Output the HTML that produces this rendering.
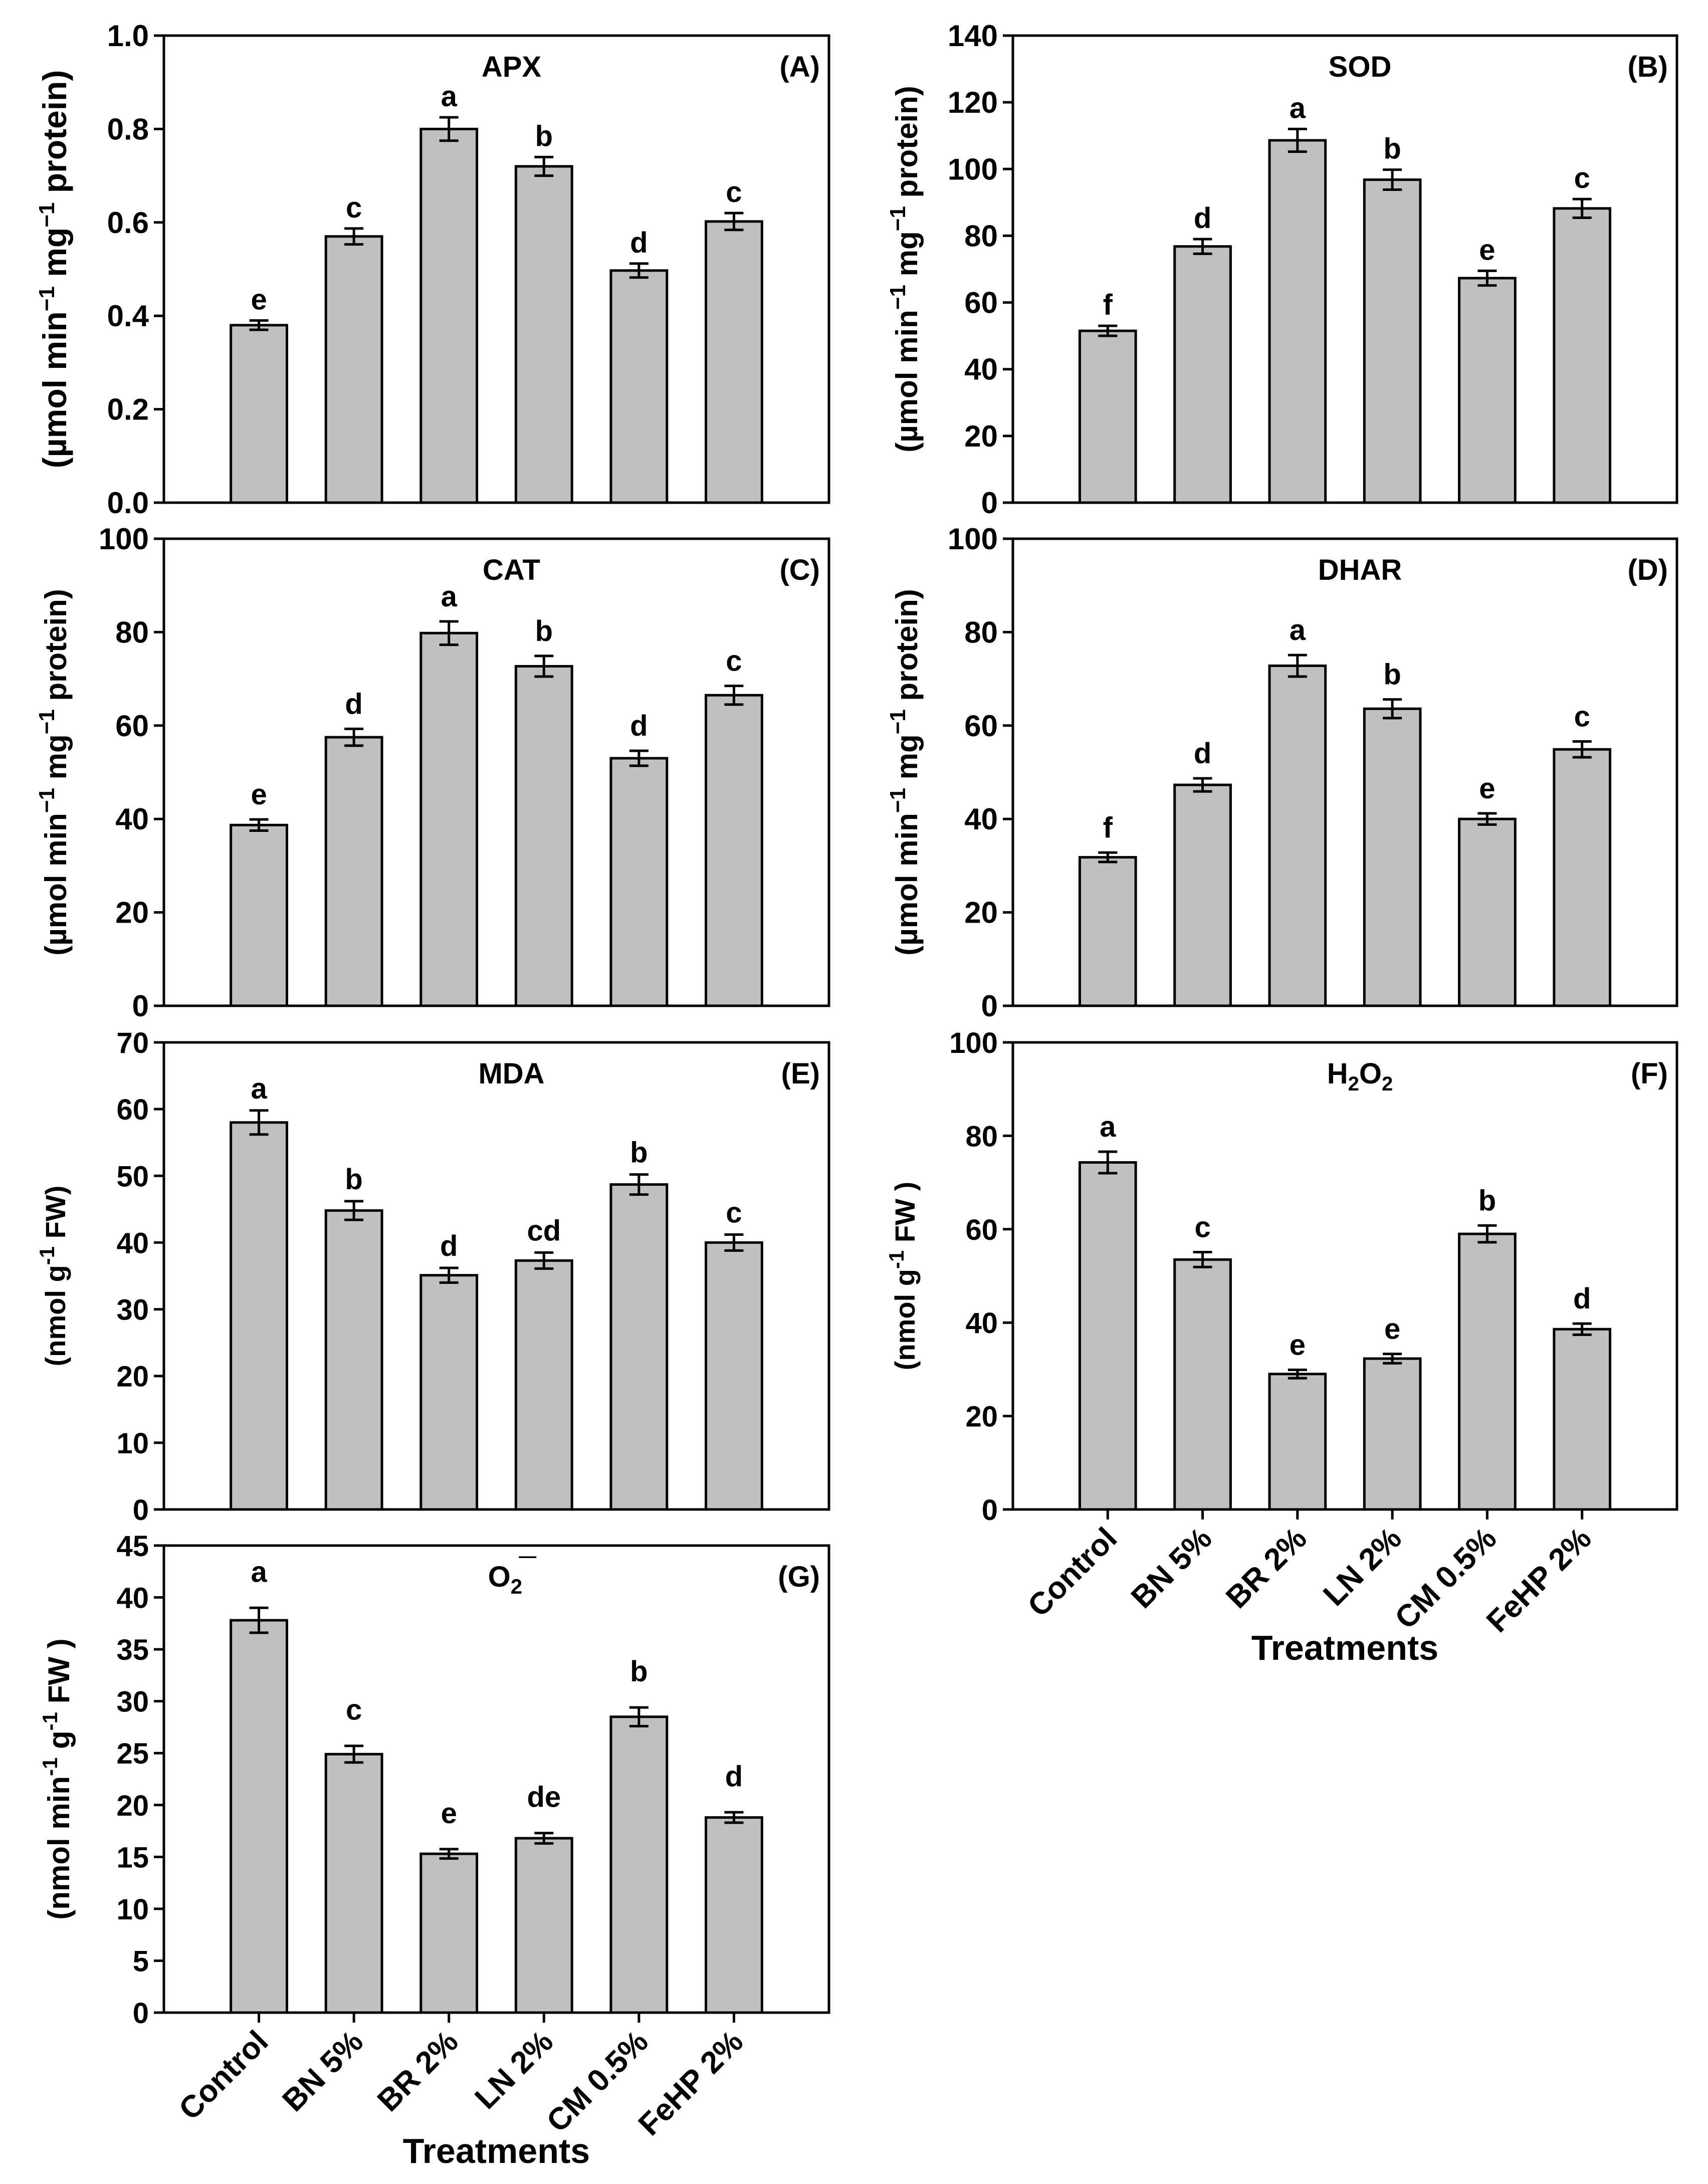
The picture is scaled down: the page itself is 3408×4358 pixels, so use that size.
<!DOCTYPE html>
<html><head><meta charset="utf-8">
<style>
html,body{margin:0;padding:0;background:#fff;}
svg{display:block;font-family:"Liberation Sans",Arial,sans-serif;font-weight:bold;}
</style></head>
<body>
<svg id="fig" width="3408" height="4358" viewBox="0 0 3408 4358" xmlns="http://www.w3.org/2000/svg"></svg>
<script>
const categories = ["Control","BN 5%","BR 2%","LN 2%","CM 0.5%","FeHP 2%"];
const apxValues = [0.38,0.57,0.80,0.72,0.497,0.602];
const apxErrors = [0.01,0.017,0.025,0.02,0.015,0.018];
const apxLetters = ["e","c","a","b","d","c"];
const apxTicks = ["0.0","0.2","0.4","0.6","0.8","1.0"];
const sodValues = [51.5,76.8,108.6,96.8,67.3,88.2];
const sodErrors = [1.5,2.2,3.4,3.0,2.2,2.8];
const sodLetters = ["f","d","a","b","e","c"];
const sodTicks = ["0","20","40","60","80","100","120","140"];
const catValues = [38.7,57.5,79.8,72.7,53.0,66.5];
const catErrors = [1.2,1.8,2.5,2.2,1.6,2.0];
const catLetters = ["e","d","a","b","d","c"];
const catTicks = ["0","20","40","60","80","100"];
const dharValues = [31.8,47.3,72.8,63.6,40.0,54.9];
const dharErrors = [1.0,1.4,2.3,2.0,1.2,1.7];
const dharLetters = ["f","d","a","b","e","c"];
const dharTicks = ["0","20","40","60","80","100"];
const mdaValues = [58.0,44.8,35.1,37.3,48.7,40.0];
const mdaErrors = [1.8,1.4,1.1,1.2,1.5,1.2];
const mdaLetters = ["a","b","d","cd","b","c"];
const mdaTicks = ["0","10","20","30","40","50","60","70"];
const h2o2Values = [74.3,53.5,29.0,32.3,59.0,38.6];
const h2o2Errors = [2.3,1.6,0.9,1.0,1.8,1.2];
const h2o2Letters = ["a","c","e","e","b","d"];
const h2o2Ticks = ["0","20","40","60","80","100"];
const o2Values = [37.8,24.9,15.3,16.8,28.5,18.8];
const o2Errors = [1.2,0.8,0.45,0.5,0.9,0.5];
const o2Letters = ["a","c","e","de","b","d"];
const o2Ticks = ["0","5","10","15","20","25","30","35","40","45"];

const NS="http://www.w3.org/2000/svg";
const svg=document.getElementById('fig');
function mk(tag,attrs,parent){const e=document.createElementNS(NS,tag);for(const k in attrs)e.setAttribute(k,attrs[k]);(parent||svg).appendChild(e);return e;}

const UMOL='<tspan>(µmol min</tspan><tspan dy="-24" font-size="44">−1</tspan><tspan dy="24"> mg</tspan><tspan dy="-24" font-size="44">−1</tspan><tspan dy="24"> protein)</tspan>';

function panel(cfg){
  const g=mk('g',{});
  
  
  const L=cfg.x0,R=cfg.x1,T=cfg.y0,B=cfg.y1;
  const maxV=parseFloat(cfg.ticks[cfg.ticks.length-1]);
  const y=v=>B-(v/maxV)*(B-T);
  const slot=(R-L)/7;
  const xc=i=>L+(i+1)*slot;
  const bw=slot*0.59;
  const fr=mk('rect',{x:L,y:T,width:R-L,height:B-T,fill:'none',stroke:'#000','stroke-width':5},g);
  
  
  cfg.ticks.forEach((t,i)=>{
    const v=parseFloat(t);const yy=y(v);
    const tk=mk('line',{x1:L-20,x2:L,y1:yy,y2:yy,stroke:'#000','stroke-width':5},g);
    
    
    const tl=mk('text',{x:L-30,y:yy+21,'text-anchor':'end','font-size':cfg.narrow?60:58},g);
    
    
    tl.textContent=t;
  });
  cfg.values.forEach((v,i)=>{
    const cx=xc(i);
    const r=mk('rect',{x:cx-bw/2,y:y(v),width:bw,height:B-y(v),fill:'#c0c0c0',stroke:'#000','stroke-width':5},g);
    
    
    const e=cfg.errors[i];
    const eb=mk('path',{d:`M${cx} ${y(v+e)}V${y(v-e)}M${cx-19} ${y(v+e)}H${cx+19}M${cx-19} ${y(v-e)}H${cx+19}`,stroke:'#000','stroke-width':5,fill:'none'},g);
    
    
    const lt=mk('text',{x:cx,y:y(v+e)-cfg.gap,'text-anchor':'middle','font-size':58},g);
    
    
    lt.textContent=cfg.letters[i];
    if(cfg.xlabels){
      const xt=mk('line',{x1:cx,x2:cx,y1:B,y2:B+20,stroke:'#000','stroke-width':5},g);
      
      
      const xl=mk('text',{x:cx+22,y:B+62,'text-anchor':'end','font-size':62,transform:`rotate(-45 ${cx+22} ${B+62})`},g);
      
      
      xl.textContent=categories[i];
    }
  });
  const ti=mk('text',{x:(L+R)/2+30,y:T+82,'text-anchor':'middle','font-size':58},g);
  
  
  ti.innerHTML=cfg.title;
  const pl=mk('text',{x:R-18,y:T+82,'text-anchor':'end','font-size':58},g);
  
  
  pl.textContent=cfg.label;
  const ay=(T+B)/2, ax=cfg.ytx;
  const yt=mk('text',{x:ax,y:ay,'text-anchor':'middle','font-size':cfg.ytSize||58,transform:`rotate(-90 ${ax} ${ay})`},g);
  
  
  yt.innerHTML=cfg.ytitle;
  if(cfg.xlabels){
    const xt=mk('text',{x:(L+R)/2,y:B+300,'text-anchor':'middle','font-size':70},g);
    
    
    xt.textContent='Treatments';
  }
}
const LX0=327,LX1=1654,RX0=2021,RX1=3346;
const rows=[[71,1003],[1075,2007],[2080,3012],[3084,4016]];
panel({name:'panel-a-apx',x0:LX0,x1:LX1,y0:rows[0][0],y1:rows[0][1],values:apxValues,errors:apxErrors,letters:apxLetters,ticks:apxTicks,title:'APX',label:'(A)',ytitle:UMOL,ytx:132,gap:22,narrow:true,ytSize:66});
panel({name:'panel-b-sod',x0:RX0,x1:RX1,y0:rows[0][0],y1:rows[0][1],values:sodValues,errors:sodErrors,letters:sodLetters,ticks:sodTicks,title:'SOD',label:'(B)',ytitle:UMOL,ytx:1830,gap:22,narrow:true,ytSize:60});
panel({name:'panel-c-cat',x0:LX0,x1:LX1,y0:rows[1][0],y1:rows[1][1],values:catValues,errors:catErrors,letters:catLetters,ticks:catTicks,title:'CAT',label:'(C)',ytitle:UMOL,ytx:132,gap:30,narrow:true,ytSize:60});
panel({name:'panel-d-dhar',x0:RX0,x1:RX1,y0:rows[1][0],y1:rows[1][1],values:dharValues,errors:dharErrors,letters:dharLetters,ticks:dharTicks,title:'DHAR',label:'(D)',ytitle:UMOL,ytx:1830,gap:30,narrow:true,ytSize:60});
panel({name:'panel-e-mda',x0:LX0,x1:LX1,y0:rows[2][0],y1:rows[2][1],values:mdaValues,errors:mdaErrors,letters:mdaLetters,ticks:mdaTicks,title:'MDA',label:'(E)',ytitle:'<tspan>(nmol g</tspan><tspan dy="-22" font-size="42">-1</tspan><tspan dy="22"> FW)</tspan>',ytx:130,gap:24,narrow:false,ytSize:56});
panel({name:'panel-f-h2o2',x0:RX0,x1:RX1,y0:rows[2][0],y1:rows[2][1],values:h2o2Values,errors:h2o2Errors,letters:h2o2Letters,ticks:h2o2Ticks,title:'H<tspan dy="14" font-size="40">2</tspan><tspan dy="-14">O</tspan><tspan dy="14" font-size="40">2</tspan>',label:'(F)',ytitle:'<tspan>(nmol g</tspan><tspan dy="-22" font-size="42">-1</tspan><tspan dy="22"> FW )</tspan>',ytx:1825,gap:30,narrow:false,ytSize:56,xlabels:true});
panel({name:'panel-g-o2',x0:LX0,x1:LX1,y0:rows[3][0],y1:rows[3][1],values:o2Values,errors:o2Errors,letters:o2Letters,ticks:o2Ticks,title:'O<tspan dy="14" font-size="42">2</tspan><tspan dy="-40" dx="-4" font-size="44">‾‾</tspan>',label:'(G)',ytitle:'<tspan>(nmol min</tspan><tspan dy="-24" font-size="42">-1</tspan><tspan dy="24"> g</tspan><tspan dy="-24" font-size="42">-1</tspan><tspan dy="24"> FW )</tspan>',ytx:138,gap:52,narrow:false,ytSize:60,xlabels:true});
</script>
</body></html>
